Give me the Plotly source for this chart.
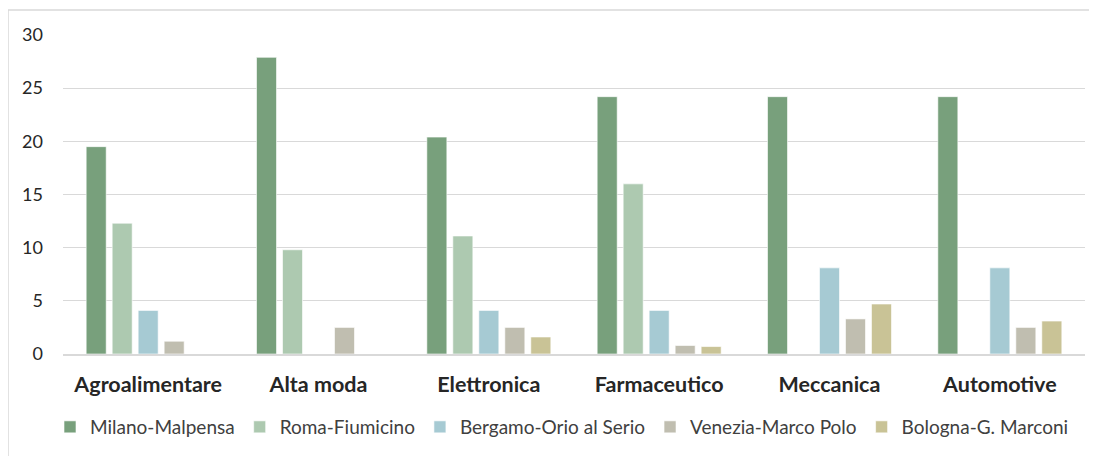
import plotly.graph_objects as go

categories = ["Agroalimentare", "Alta moda", "Elettronica", "Farmaceutico", "Meccanica", "Automotive"]
series_names = ["Milano-Malpensa", "Roma-Fiumicino", "Bergamo-Orio al Serio", "Venezia-Marco Polo", "Bologna-G. Marconi"]
milano = [19.5, 27.9, 20.4, 24.2, 24.2, 24.2]
roma = [12.3, 9.8, 11.1, 16.0, None, None]
bergamo = [4.1, None, 4.1, 4.1, 8.1, 8.1]
venezia = [1.2, 2.5, 2.5, 0.8, 3.3, 2.5]
bologna = [None, None, 1.6, 0.7, 4.7, 3.1]
colors = ["#78A07C", "#ADC9B0", "#A6CAD3", "#C0BEB0", "#C9C396"]

FONT = "Lato"
fig = go.Figure()
for name, vals, col in zip(series_names, [milano, roma, bergamo, venezia, bologna], colors):
    fig.add_trace(go.Bar(name=name, x=categories, y=vals, marker_color=col,
                         marker_line=dict(color="rgba(255,255,255,0.6)", width=1)))

# page has an 8px body margin; figure sized to fit
OFF = 8
W, H = 1097 - OFF, 456 - OFF
ml = 63 - OFF
mt = 35 - OFF
mr = W - (1085 - OFF)
mb = H - (354 - OFF)
pw = W - ml - mr
ph = H - mt - mb
bx = (8 - OFF - ml) / pw
by = 1 + (mt - (10 - OFF)) / ph

fig.update_layout(
    width=W, height=H,
    margin=dict(l=ml, r=mr, t=mt, b=mb, pad=0, autoexpand=False),
    paper_bgcolor="white", plot_bgcolor="white",
    barmode="group", bargap=0.237, bargroupgap=0.23,
    font=dict(family=FONT, color="#262626", size=17),
    legend=dict(orientation="h", x=(50 - OFF) / W, xanchor="left", xref="container",
                y=1 - (427 - OFF) / H, yanchor="middle", yref="container",
                font=dict(size=19, color="#404040"), itemwidth=30, tracegroupgap=0),
    xaxis=dict(showgrid=False, showline=True, linecolor="#D9D9D9", linewidth=2,
               tickfont=dict(size=21.5, family=FONT, color="#262626", weight="bold"),
               ticks="", ticklabelstandoff=10),
    yaxis=dict(range=[0, 30], dtick=5, showgrid=True, gridcolor="#D9D9D9", gridwidth=1.3,
               zeroline=False, showline=False, ticks="", ticklabelstandoff=19,
               tickfont=dict(size=18, color="#262626")),
    shapes=[
        dict(type="line", xref="paper", yref="paper", x0=bx, x1=1.2, y0=by, y1=by,
             line=dict(color="#D9D9D9", width=1.5)),
        dict(type="line", xref="paper", yref="paper", x0=bx, x1=bx, y0=by, y1=-1,
             line=dict(color="#D9D9D9", width=1.5)),
    ],
)
fig.write_html("out.html")
